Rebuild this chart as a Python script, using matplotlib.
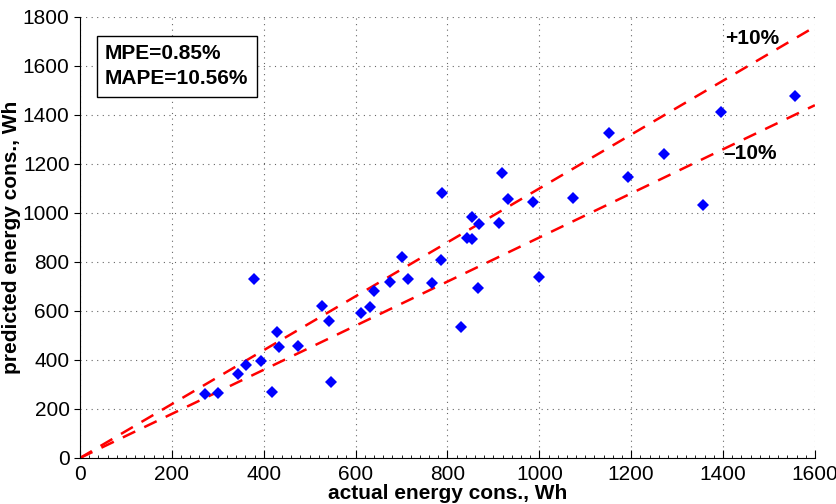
import matplotlib
matplotlib.use("Agg")
import matplotlib.pyplot as plt
from matplotlib.ticker import MultipleLocator
import numpy as np

plt.rcParams['font.family'] = ['Liberation Sans', 'DejaVu Sans']

# actual vs predicted energy consumption, Wh
actual = [272, 300, 344, 361, 378, 395, 419, 429, 433, 474,
          526, 543, 547, 611, 631, 640, 674, 702, 715, 766,
          786, 788, 830, 843, 853, 854, 867, 869, 912, 919,
          932, 986, 1000, 1074, 1151, 1193, 1271, 1356, 1395, 1556]
predicted = [262, 266, 343, 380, 730, 397, 270, 515, 453, 458,
             620, 560, 310, 591, 615, 682, 718, 822, 730, 713,
             808, 1083, 534, 897, 893, 983, 693, 953, 960, 1165,
             1057, 1043, 740, 1060, 1328, 1148, 1239, 1033, 1413, 1477]
band_x = [0, 1600]
upper_factor = 1.1
lower_factor = 0.9

fig = plt.figure(figsize=(8.37, 5.04), dpi=100)
ax = fig.add_axes([0.0956, 0.0913, 0.878, 0.875])

bx = np.array(band_x)
ax.plot(bx, bx * upper_factor, '--', color='red', lw=1.8, dashes=(5.5, 4))
ax.plot(bx, bx * lower_factor, '--', color='red', lw=1.8, dashes=(5.5, 4))
ax.plot(actual, predicted, 'D', color='blue', markersize=6.5, markeredgewidth=0)

ax.set_xlim(0, 1600)
ax.set_ylim(0, 1800)
ax.xaxis.set_major_locator(MultipleLocator(200))
ax.yaxis.set_major_locator(MultipleLocator(200))
ax.xaxis.set_minor_locator(MultipleLocator(20))
ax.tick_params(axis='x', which='major', direction='in', length=6, labelsize=15, pad=5)
ax.tick_params(axis='x', which='minor', direction='in', length=2)
ax.tick_params(axis='y', which='major', direction='out', length=4, labelsize=15)
ax.grid(True, which='major', linestyle=(0, (1, 4)), color='black', lw=0.8, alpha=0.6)
ax.spines['top'].set_visible(False)
ax.spines['right'].set_visible(False)

ax.set_xlabel('actual energy cons., Wh', fontsize=15, fontweight='bold', labelpad=0)
ax.set_ylabel('predicted energy cons., Wh', fontsize=15, fontweight='bold', labelpad=1)

ax.text(0.034, 0.938, 'MPE=0.85%\nMAPE=10.56%', transform=ax.transAxes,
        fontsize=15, fontweight='bold', va='top', ha='left', linespacing=1.4,
        bbox=dict(boxstyle='square,pad=0.4', facecolor='white', edgecolor='black', lw=1))
ax.text(1404, 1714, '+10%', fontsize=15, fontweight='bold', va='center', ha='left')
ax.text(1400, 1241, '\u201310%', fontsize=15, fontweight='bold', va='center', ha='left')

fig.savefig('out.png', dpi=100)
